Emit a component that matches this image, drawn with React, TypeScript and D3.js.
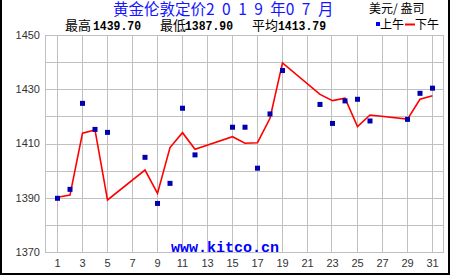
import React from "react";
import * as d3 from "d3";

const days = [1, 2, 3, 4, 5, 8, 9, 10, 11, 12, 15, 16, 17, 18, 19, 22, 23, 24, 25, 26, 29, 30, 31];
const amValues = [1389.8, 1393.1, 1424.8, 1415.2, 1414.1, 1404.9, 1387.9, 1395.3, 1423.0, 1405.8, 1416.0, 1416.0, 1400.9, 1420.9, 1436.9, 1424.4, 1417.4, 1425.7, 1426.3, 1418.3, 1418.9, 1428.5, 1430.4];
const pmValues = [1390.2, 1391.0, 1413.8, 1415.0, 1389.2, 1400.2, 1391.6, 1408.5, 1414.0, 1407.9, 1412.5, 1410.1, 1410.3, 1419.3, 1439.7, 1428.1, 1425.8, 1426.7, 1416.2, 1420.5, 1419.0, 1426.3, 1427.6];
const xTickLabels = [1, 3, 5, 7, 9, 11, 13, 15, 17, 19, 21, 23, 25, 27, 29, 31];
const yTickLabels = [1370, 1390, 1410, 1430, 1450];
const yGridValues = [1370, 1380, 1390, 1400, 1410, 1420, 1430, 1440, 1450];
const titleText = "黄金伦敦定价2 0 1 9 年0 7 月";
const unitText = "美元/ 盎司";
const statsLabels = ["最高", "最低", "平均"];
const statsValues = ["1439.70", "1387.90", "1413.79"];
const legendLabels = ["上午", "下午"];
const siteText = "www.kitco.cn";

const W = 450;
const H = 275;
const plotLeft = 45;
const plotRight = 443;
const plotTop = 35;
const plotBottom = 252;

export default function App() {
  const x = d3.scaleLinear().domain([1, 31]).range([57.5, 432.5]);
  const y = d3.scaleLinear().domain([1370, 1450]).range([plotBottom, plotTop]);
  const line = d3
    .line<number>()
    .x((_, i) => x(days[i]))
    .y((d) => y(d));
  const grid = "#c0c0c0";
  const statsX = [65, 160, 252];
  const statsNumX = [93, 185, 278];
  const cjk = "'Noto Sans CJK SC', sans-serif";

  return (
    <svg
      width={W}
      height={H}
      style={{ position: "fixed", left: 0, top: 0, background: "#fff" }}
      fontFamily="'Liberation Sans', sans-serif"
    >
      <rect x={0} y={0} width={W} height={H} fill="#fff" />
      {/* grid */}
      {yGridValues.map((v) => (
        <line key={"h" + v} x1={plotLeft} x2={plotRight} y1={Math.round(y(v)) + 0.5} y2={Math.round(y(v)) + 0.5} stroke={grid} strokeWidth={1} />
      ))}
      {xTickLabels.map((d) => (
        <line key={"v" + d} x1={Math.round(x(d)) - 0.5} x2={Math.round(x(d)) - 0.5} y1={plotTop} y2={plotBottom} stroke={grid} strokeWidth={1} />
      ))}
      <rect x={plotLeft + 0.5} y={plotTop + 0.5} width={plotRight - plotLeft} height={plotBottom - plotTop} fill="none" stroke={grid} strokeWidth={1} />

      {/* y labels */}
      {yTickLabels.map((v) => (
        <text key={"yl" + v} x={40} y={y(v)} dy="0.36em" textAnchor="end" fontSize={11} fill="#333">
          {v}
        </text>
      ))}
      {/* x labels */}
      {xTickLabels.map((d) => (
        <text key={"xl" + d} x={x(d)} y={263} dy="0.36em" textAnchor="middle" fontSize={11} fill="#333">
          {d}
        </text>
      ))}

      {/* website */}
      <text x={225} y={247} dy="0.35em" textAnchor="middle" fontSize={15} fontWeight="bold" fill="#0000ff" fontFamily="'Liberation Mono', monospace">
        {siteText}
      </text>

      {/* pm line */}
      <path d={line(pmValues) || ""} fill="none" stroke="#ff0000" strokeWidth={1.6} />
      {/* am squares */}
      {amValues.map((v, i) => (
        <rect key={"am" + i} x={x(days[i]) - 2.5} y={y(v) - 2.5} width={5} height={5} fill="#0000b0" />
      ))}

      {/* title */}
      <text x={113} y={9.5} dy="0.36em" fontSize={15.5} fill="#1414ff" fontFamily={cjk} wordSpacing={4}>
        {titleText}
      </text>
      <text x={369} y={8.5} dy="0.36em" fontSize={12} fill="#000" fontFamily={cjk}>
        {unitText}
      </text>

      {/* stats */}
      {statsLabels.map((s, i) => (
        <g key={"st" + i}>
          <text x={statsX[i]} y={25} dy="0.36em" fontSize={13} fill="#000" fontFamily={cjk}>
            {s}
          </text>
          <text x={statsNumX[i]} y={25.5} dy="0.36em" fontSize={12.5} fontWeight="bold" fill="#000" fontFamily="'Liberation Mono', monospace" textLength={48} lengthAdjust="spacingAndGlyphs">
            {statsValues[i]}
          </text>
        </g>
      ))}

      {/* legend */}
      <rect x={376} y={22} width={4} height={4} fill="#0000ff" />
      <text x={380} y={24.5} dy="0.36em" fontSize={12} fill="#000" fontFamily={cjk}>
        {legendLabels[0]}
      </text>
      <line x1={405} x2={415} y1={24.5} y2={24.5} stroke="#ff0000" strokeWidth={2} />
      <text x={415} y={24.5} dy="0.36em" fontSize={12} fill="#000" fontFamily={cjk}>
        {legendLabels[1]}
      </text>

      {/* outer border */}
      <line x1={1} x2={1} y1={0} y2={H} stroke="#000" strokeWidth={2} />
      <line x1={W - 1} x2={W - 1} y1={0} y2={H} stroke="#000" strokeWidth={2} />
      <line x1={0} x2={W} y1={H - 1} y2={H - 1} stroke="#000" strokeWidth={2} />
    </svg>
  );
}
